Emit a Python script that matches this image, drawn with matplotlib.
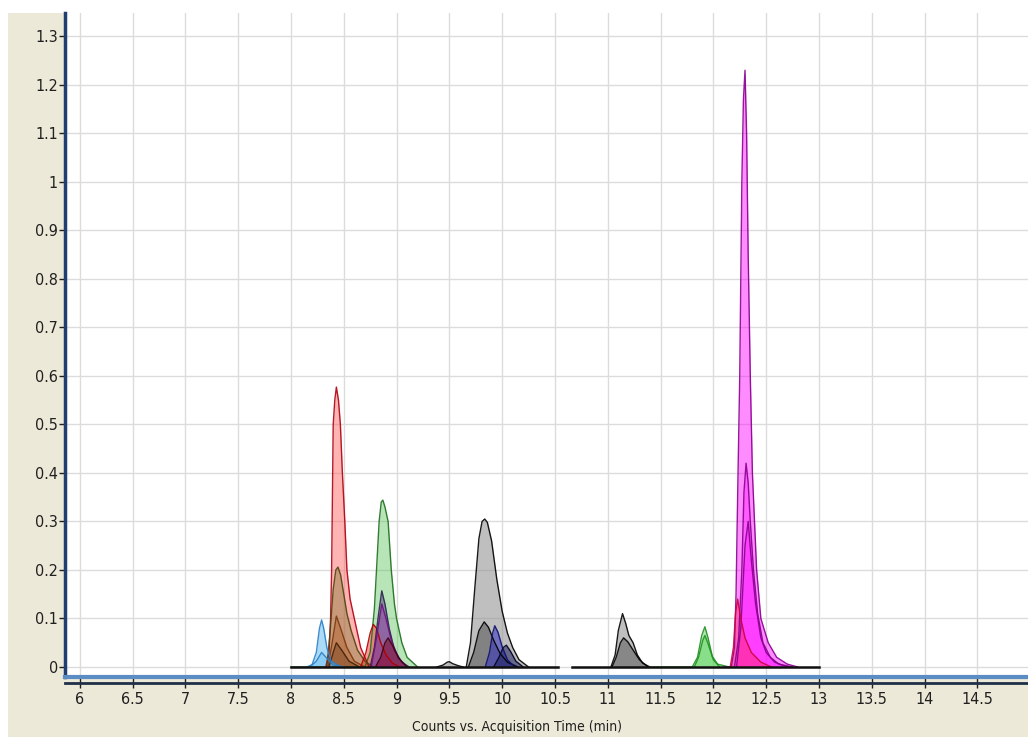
import matplotlib.pyplot as plt
from matplotlib.patches import Rectangle

# chromatogram traces (times in min, counts as on the y axis)
light_blue_t = [8.15, 8.2, 8.24, 8.27, 8.29, 8.31, 8.34, 8.38, 8.45, 8.5]
light_blue_c = [0, 0.005, 0.03, 0.08, 0.097, 0.08, 0.04, 0.012, 0.003, 0]
light_blue2_t = [8.18, 8.24, 8.29, 8.34, 8.4, 8.5]
light_blue2_c = [0, 0.012, 0.03, 0.018, 0.004, 0]

red_t = [8.33, 8.36, 8.375, 8.385, 8.395, 8.40, 8.415, 8.43, 8.45, 8.468, 8.487, 8.51,
         8.53, 8.56, 8.60, 8.66, 8.74]
red_c = [0, 0.03, 0.1, 0.2, 0.4, 0.5, 0.55, 0.577, 0.55, 0.5, 0.4, 0.3, 0.2, 0.14, 0.1,
         0.04, 0]
olive_t = [8.34, 8.37, 8.40, 8.425, 8.445, 8.47, 8.5, 8.53, 8.57, 8.63, 8.7, 8.78]
olive_c = [0, 0.07, 0.16, 0.2, 0.206, 0.19, 0.15, 0.11, 0.075, 0.035, 0.012, 0]
orange_t = [8.35, 8.39, 8.43, 8.47, 8.53, 8.6, 8.7]
orange_c = [0, 0.05, 0.105, 0.08, 0.04, 0.012, 0]
brown_t = [8.36, 8.4, 8.43, 8.48, 8.55, 8.65]
brown_c = [0, 0.03, 0.05, 0.035, 0.012, 0]

red2_t = [8.66, 8.71, 8.75, 8.78, 8.81, 8.85, 8.9, 8.96, 9.03]
red2_c = [0, 0.03, 0.07, 0.088, 0.08, 0.05, 0.025, 0.008, 0]
green_t = [8.0, 8.70, 8.75, 8.79, 8.81, 8.835, 8.855, 8.87, 8.89, 8.92, 8.95, 8.98, 9.0,
           9.05, 9.1, 9.2]
green_c = [0, 0, 0.03, 0.12, 0.2, 0.3, 0.34, 0.344, 0.33, 0.3, 0.2, 0.13, 0.1, 0.05,
           0.02, 0]
slate_t = [8.75, 8.79, 8.83, 8.86, 8.89, 8.93, 8.98, 9.05, 9.12]
slate_c = [0, 0.04, 0.11, 0.157, 0.13, 0.08, 0.035, 0.01, 0]
purple_t = [8.76, 8.81, 8.86, 8.9, 8.95, 9.02, 9.1]
purple_c = [0, 0.06, 0.13, 0.1, 0.055, 0.018, 0]
maroon_t = [8.8, 8.85, 8.89, 8.92, 8.96, 9.02, 9.1]
maroon_c = [0, 0.02, 0.05, 0.06, 0.045, 0.018, 0]

bump_t = [9.38, 9.44, 9.48, 9.5, 9.53, 9.58, 9.63]
bump_c = [0, 0.004, 0.01, 0.011, 0.007, 0.003, 0]
gray_t = [9.66, 9.7, 9.74, 9.78, 9.81, 9.835, 9.86, 9.9, 9.95, 10.0, 10.05, 10.1, 10.16, 10.25]
gray_c = [0, 0.05, 0.16, 0.265, 0.3, 0.305, 0.298, 0.26, 0.18, 0.115, 0.07, 0.04, 0.015, 0]
dgray_t = [9.68, 9.73, 9.78, 9.83, 9.87, 9.92, 9.98, 10.05, 10.15]
dgray_c = [0, 0.03, 0.075, 0.093, 0.082, 0.055, 0.028, 0.01, 0]
blue_t = [9.84, 9.88, 9.91, 9.93, 9.96, 10.0, 10.05, 10.12]
blue_c = [0, 0.03, 0.07, 0.085, 0.072, 0.042, 0.015, 0]
navy_t = [9.92, 9.97, 10.01, 10.04, 10.08, 10.13, 10.2]
navy_c = [0, 0.02, 0.04, 0.045, 0.032, 0.012, 0]

gray3_t = [11.03, 11.07, 11.1, 11.14, 11.17, 11.2, 11.24, 11.28, 11.33, 11.4]
gray3_c = [0, 0.025, 0.075, 0.11, 0.09, 0.065, 0.05, 0.025, 0.008, 0]
dgray3_t = [11.04, 11.08, 11.12, 11.15, 11.19, 11.24, 11.3, 11.38]
dgray3_c = [0, 0.02, 0.05, 0.06, 0.052, 0.035, 0.015, 0]

lgreen_t = [11.4, 11.8, 11.85, 11.89, 11.92, 11.95, 11.99, 12.04, 12.15]
lgreen_c = [0, 0, 0.02, 0.065, 0.083, 0.06, 0.022, 0.006, 0]
lgreen2_t = [11.82, 11.86, 11.9, 11.92, 11.95, 12.0, 12.06]
lgreen2_c = [0, 0.02, 0.055, 0.065, 0.048, 0.015, 0]

mag_t = [12.1, 12.17, 12.2, 12.215, 12.23, 12.25, 12.27, 12.285, 12.3, 12.315, 12.33,
         12.35, 12.37, 12.39, 12.41, 12.45, 12.52, 12.6, 12.7, 12.8]
mag_c = [0, 0, 0.04, 0.15, 0.35, 0.6, 1.0, 1.17, 1.23, 1.1, 0.85, 0.6, 0.4, 0.3, 0.2,
         0.1, 0.05, 0.02, 0.006, 0]
mag2_t = [12.2, 12.24, 12.27, 12.29, 12.31, 12.33, 12.35, 12.38, 12.42, 12.47, 12.54,
          12.62, 12.75]
mag2_c = [0, 0.06, 0.2, 0.36, 0.42, 0.38, 0.3, 0.2, 0.11, 0.05, 0.02, 0.006, 0]
mag3_t = [12.22, 12.26, 12.3, 12.33, 12.36, 12.4, 12.45, 12.5, 12.58, 12.7]
mag3_c = [0, 0.08, 0.25, 0.3, 0.22, 0.13, 0.06, 0.03, 0.01, 0]
pink_t = [12.16, 12.19, 12.21, 12.23, 12.26, 12.3, 12.36, 12.45, 12.55]
pink_c = [0, 0.04, 0.11, 0.14, 0.1, 0.06, 0.03, 0.01, 0]

baseline_start = [8.0, 10.66]
baseline_end = [10.53, 13.0]

x_ticks = [6, 6.5, 7, 7.5, 8, 8.5, 9, 9.5, 10, 10.5, 11, 11.5, 12, 12.5, 13, 13.5, 14, 14.5]
y_ticks = [0, 0.1, 0.2, 0.3, 0.4, 0.5, 0.6, 0.7, 0.8, 0.9, 1, 1.1, 1.2, 1.3]

traces = [
    (green_t, green_c, '#4cc04c', '#1e6e1e', 0.4),
    (red_t, red_c, '#ff5a5a', '#b00010', 0.45),
    (olive_t, olive_c, '#857a35', '#4e4510', 0.45),
    (orange_t, orange_c, '#b05a20', '#7a3a10', 0.4),
    (brown_t, brown_c, '#603010', '#402008', 0.35),
    (light_blue_t, light_blue_c, '#5bb8f0', '#2a80c8', 0.5),
    (light_blue2_t, light_blue2_c, '#5bb8f0', '#2a80c8', 0.4),
    (red2_t, red2_c, '#ff3030', '#b00000', 0.5),
    (slate_t, slate_c, '#55507a', '#2a2450', 0.55),
    (purple_t, purple_c, '#a030b0', '#701080', 0.45),
    (maroon_t, maroon_c, '#800020', '#400010', 0.5),
    (bump_t, bump_c, '#909090', '#000000', 0.6),
    (gray_t, gray_c, '#8c8c8c', '#000000', 0.55),
    (dgray_t, dgray_c, '#505050', '#000000', 0.55),
    (blue_t, blue_c, '#3030c0', '#101070', 0.55),
    (navy_t, navy_c, '#202060', '#000020', 0.55),
    (gray3_t, gray3_c, '#8c8c8c', '#000000', 0.55),
    (dgray3_t, dgray3_c, '#505050', '#000000', 0.5),
    (lgreen_t, lgreen_c, '#50d050', '#209020', 0.45),
    (lgreen2_t, lgreen2_c, '#50d050', '#209020', 0.4),
    (mag_t, mag_c, '#ff00ff', '#8a0090', 0.45),
    (mag2_t, mag2_c, '#ff00ff', '#8a0090', 0.35),
    (mag3_t, mag3_c, '#ff00ff', '#8a0090', 0.3),
    (pink_t, pink_c, '#ff2060', '#d00040', 0.45),
]

plt.rcParams['font.family'] = ['DejaVu Sans']
plt.rcParams['font.stretch'] = 'condensed'

fig = plt.figure(figsize=(10.28, 7.37), dpi=100, facecolor='white')
fig.patches.append(Rectangle((8 / 1028, 0), 1, 1 - 13 / 737, transform=fig.transFigure,
                             facecolor='#ece9d8', edgecolor='none', zorder=-10))
ax = fig.add_axes([65 / 1028, 1 - 677 / 737, 1 - 65 / 1028, (677 - 13) / 737])
ax.set_facecolor('white')

for t, c, fc, ec, a in traces:
    ax.fill_between(t, 0, c, color=fc, alpha=a, linewidth=0, zorder=2)
    ax.plot(t, c, color=ec, lw=1.0, alpha=0.9, zorder=3)

for s, e in zip(baseline_start, baseline_end):
    ax.plot([s, e], [0, 0], color='#101010', lw=1.8, zorder=4)

ax.set_xlim(5.86, 14.98)
ax.set_ylim(-0.0206, 1.348)
ax.set_xticks(x_ticks)
ax.set_xticklabels([f'{v:g}' for v in x_ticks])
ax.set_yticks(y_ticks)
ax.set_yticklabels([f'{v:g}' for v in y_ticks])
ax.grid(True, color='#dcdcdc', lw=1)
ax.set_axisbelow(True)

for side in ['top', 'right']:
    ax.spines[side].set_visible(False)
ax.spines['left'].set_color('#1f3f70')
ax.spines['left'].set_linewidth(2.5)
ax.spines['bottom'].set_color('#5b8cc4')
ax.spines['bottom'].set_linewidth(3)
# dark second line under the bottom axis
ax.plot([0, 1], [-0.009, -0.009], transform=ax.transAxes, color='#1f2f48', lw=2,
        clip_on=False, zorder=5)

ax.tick_params(axis='x', direction='out', length=8, width=1, color='#202020', pad=3,
               labelsize=11.5, labelcolor='#202020')
ax.tick_params(axis='y', direction='out', length=4, width=1, color='#202020', pad=1,
               labelsize=11.5, labelcolor='#202020')

fig.text(517 / 1028, 1 - 727 / 737, 'Counts vs. Acquisition Time (min)', ha='center',
         va='center', fontsize=10, color='#202020')

fig.savefig('out.png', dpi=100)
